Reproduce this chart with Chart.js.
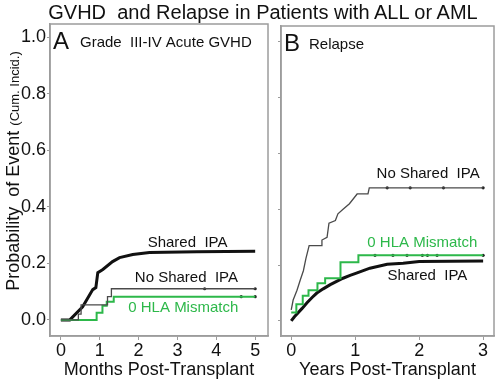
<!DOCTYPE html>
<html>
<head>
<meta charset="utf-8">
<script src="https://cdn.jsdelivr.net/npm/chart.js@4.4.1/dist/chart.umd.min.js"></script>
<style>
html,body{margin:0;padding:0;background:#fff;}
#wrap{position:relative;width:498px;height:383px;overflow:hidden;font-family:"Liberation Sans",Arial,sans-serif;}
#title{position:absolute;left:0;top:0;width:526px;text-align:center;font-size:20px;line-height:24px;color:#111;white-space:pre;}
#cA{position:absolute;left:0;top:0;}
#cB{position:absolute;left:272px;top:0;}
</style>
</head>
<body>
<div id="wrap">
  <canvas id="cA" width="272" height="383"></canvas>
  <canvas id="cB" width="226" height="383"></canvas>
  <div id="title">GVHD  and Relapse in Patients with ALL or AML</div>
</div>
<script>
// panel A: months post-transplant, cumulative incidence of grade III-IV acute GVHD
const sharedA   = [[0,0],[0.23,0],[0.56,0.046],[0.82,0.107],[0.9,0.114],[0.95,0.167],[1.08,0.178],[1.33,0.206],[1.51,0.22],[1.85,0.231],[2.28,0.238],[3.5,0.241],[5.0,0.243]];
const noSharedA = [[0,0],[0.45,0.02],[0.52,0.053],[1.2,0.082],[1.3,0.11],[5.0,0.11]];
const hla0A     = [[0,0],[0.92,0.025],[1.07,0.05],[1.18,0.064],[1.36,0.082],[5.0,0.082]];
const censorNoSharedA = [[3.7,0.11],[5.0,0.11]];
const censorHla0A     = [[4.64,0.082],[5.0,0.082]];

// panel B: years post-transplant, cumulative incidence of relapse
const sharedB   = [[0,0],[0.05,0.015],[0.09,0.025],[0.17,0.045],[0.25,0.066],[0.33,0.085],[0.4,0.1],[0.5,0.115],[0.61,0.13],[0.71,0.142],[0.81,0.153],[0.92,0.163],[1.03,0.172],[1.23,0.189],[1.5,0.203],[1.75,0.207],[2.0,0.213],[2.5,0.214],[3.0,0.215]];
const noSharedB = [[0,0.04],[0.03,0.075],[0.09,0.11],[0.14,0.146],[0.19,0.18],[0.23,0.224],[0.28,0.27],[0.47,0.27],[0.48,0.29],[0.56,0.3],[0.59,0.35],[0.69,0.36],[0.73,0.384],[0.81,0.4],[0.91,0.42],[1.03,0.455],[1.2,0.455],[1.22,0.477],[3.0,0.477]];
const hla0B     = [[0,0.03],[0.08,0.06],[0.18,0.09],[0.27,0.11],[0.41,0.135],[0.53,0.153],[0.77,0.21],[1.05,0.235],[3.0,0.235]];
const censorNoSharedB = [[1.5,0.477],[1.86,0.477],[2.38,0.477],[3.0,0.477]];
const censorHla0B     = [[1.31,0.235],[1.59,0.235],[1.81,0.235],[2.05,0.235],[2.13,0.235],[2.28,0.235],[3.0,0.235]];

const yTicks  = [0,0.2,0.4,0.6,0.8,1.0];
const xTicksA = [0,1,2,3,4,5];
const xTicksB = [0,1,2,3];

// curve labels, anchored in data units
const labelsA = [["Shared  IPA",3.26,0.274,'#111'],["No Shared  IPA",3.23,0.149,'#111'],["0 HLA Mismatch",3.15,0.043,'#2db84a']];
const labelsB = [["No Shared  IPA",2.14,0.527,'#111'],["0 HLA Mismatch",2.05,0.281,'#2db84a'],["Shared  IPA",2.13,0.16,'#111']];

const FONT = '"Liberation Sans", Arial, sans-serif';
const BLACK = '#111', GREY = '#4a4a4a', GREEN = '#2db84a', FRAME = '#9c9c9c';
const pts = a => a.map(p => ({x:p[0], y:p[1]}));

function curve(data, color, width, stepped){
  return {data:pts(data), borderColor:color, borderWidth:width, stepped:stepped, pointRadius:0, tension:0};
}
function censor(data){
  return {type:'scatter', data:pts(data), showLine:false, pointRadius:1.6, pointBackgroundColor:'#222', pointBorderWidth:0};
}

const panelPlugin = {
  id:'panel',
  afterDraw(chart){
    const o = chart.options.plugins.panel, ctx = chart.ctx, a = chart.chartArea;
    const sx = chart.scales.x, sy = chart.scales.y;
    ctx.save();
    ctx.strokeStyle = FRAME; ctx.lineWidth = 1.5;
    ctx.strokeRect(a.left, a.top, a.right - a.left, a.bottom - a.top);
    ctx.fillStyle = '#111'; ctx.textBaseline = 'middle'; ctx.textAlign = 'left';
    ctx.font = '24px ' + FONT;
    ctx.fillText(o.letter, a.left + 3, a.top + 18);
    ctx.font = '15px ' + FONT;
    ctx.fillText(o.sub, a.left + o.subDx, a.top + 19);
    ctx.textAlign = 'center';
    o.labels.forEach(l => {
      ctx.fillStyle = l[3];
      ctx.fillText(l[0], sx.getPixelForValue(l[1]), sy.getPixelForValue(l[2]));
    });
    if (o.yTitle){
      ctx.translate(18.5, 171);
      ctx.rotate(-Math.PI/2);
      ctx.textAlign = 'left'; ctx.textBaseline = 'alphabetic'; ctx.fillStyle = '#111';
      const big = 'Probability  of Event ', small = '(Cum. Incid.)';
      ctx.font = '18px ' + FONT; const w1 = ctx.measureText(big).width;
      ctx.font = '13px ' + FONT; const w2 = ctx.measureText(small).width;
      const x0 = -(w1 + w2)/2;
      ctx.font = '18px ' + FONT; ctx.fillText(big, x0, 0);
      ctx.font = '13px ' + FONT; ctx.fillText(small, x0 + w1, 0);
    }
    ctx.restore();
  }
};

function panel(id, c){
  return new Chart(document.getElementById(id), {
    type:'line',
    data:{datasets:c.datasets},
    plugins:[panelPlugin],
    options:{
      responsive:false, animation:false,
      layout:{padding:{top:c.top, right:c.right, left:0, bottom:1}},
      plugins:{legend:{display:false}, tooltip:{enabled:false},
        panel:{letter:c.letter, sub:c.sub, subDx:c.subDx, labels:c.labels, yTitle:c.yTitle}},
      scales:{
        x:{type:'linear', min:c.xmin, max:c.xmax,
          afterBuildTicks:s => { s.ticks = c.xTicks.map(v => ({value:v})); },
          afterFit:s => { s.height = 46; },
          grid:{drawOnChartArea:false, drawTicks:true, tickLength:4, color:FRAME},
          border:{color:FRAME, width:1.5},
          ticks:{color:'#111', font:{family:FONT, size:18}, padding:0, maxRotation:0},
          title:{display:true, text:c.xTitle, color:'#111', font:{family:FONT, size:18}, padding:{top:0, bottom:1}}},
        y:{type:'linear', min:c.ymin, max:c.ymax,
          afterBuildTicks:s => { s.ticks = yTicks.map(v => ({value:v})); },
          afterFit:s => { s.width = c.yw; },
          grid:{drawOnChartArea:false, drawTicks:true, tickLength:3, color:FRAME},
          border:{color:FRAME, width:1.5},
          ticks:{color:'#111', font:{family:FONT, size:18}, padding:1,
            callback:v => c.yLabels ? v.toFixed(1) : ''}}
      }
    }
  });
}

panel('cA', {
  top:24, right:3, yw:50, xmin:-0.28, xmax:5.33, ymin:-0.057, ymax:1.046,
  xTicks:xTicksA, xTitle:'Months Post-Transplant', yLabels:true, yTitle:true,
  letter:'A', sub:'Grade  III-IV Acute GVHD', subDx:30, labels:labelsA,
  datasets:[
    curve(noSharedA, GREY, 1.3, true),
    curve(hla0A, GREEN, 2, true),
    curve(sharedA, BLACK, 3, false),
    censor(censorNoSharedA), censor(censorHla0A)
  ]
});

panel('cB', {
  top:26, right:4, yw:9, xmin:-0.16, xmax:3.17, ymin:-0.054, ymax:1.057,
  xTicks:xTicksB, xTitle:'Years Post-Transplant', yLabels:false, yTitle:false,
  letter:'B', sub:'Relapse', subDx:28, labels:labelsB,
  datasets:[
    curve(noSharedB, GREY, 1.3, false),
    curve(hla0B, GREEN, 2, true),
    curve(sharedB, BLACK, 3, false),
    censor(censorNoSharedB), censor(censorHla0B)
  ]
});
</script>
</body>
</html>
